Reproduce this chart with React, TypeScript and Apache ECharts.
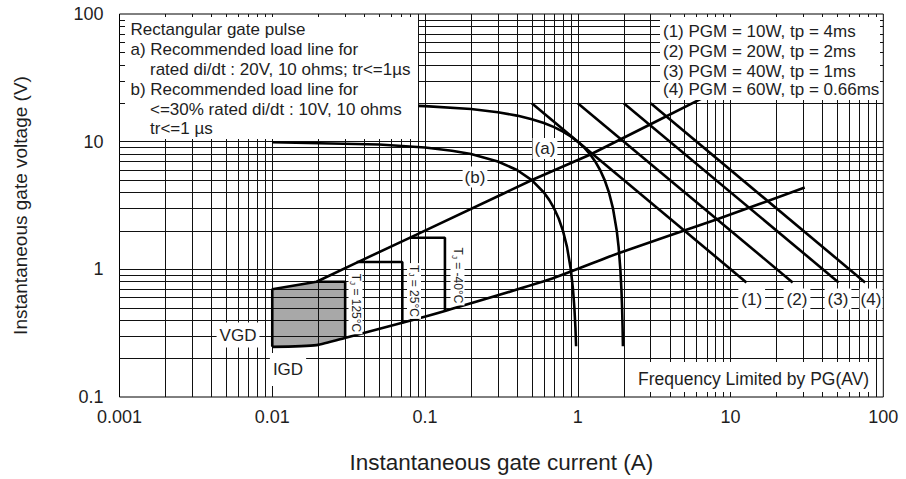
import React, { useEffect, useRef } from 'react';
import * as echarts from 'echarts';

// ---- axis ticks ----
const xTickValues = [0.001, 0.01, 0.1, 1, 10, 100];
const xTickLabels = ['0.001', '0.01', '0.1', '1', '10', '100'];
const yTickValues = [0.1, 1, 10, 100];
const yTickLabels = ['0.1', '1', '10', '100'];
const gridMantissas = [1, 2, 3, 4, 5, 6, 7, 8, 9];
const xGridDecades = [0.001, 0.01, 0.1, 1, 10];
const yGridDecades = [0.1, 1, 10];

// ---- data (I in A, V in V) ----
const loadLineA = [
  [0.01, 19.9], [0.05, 19.5], [0.1, 19.0], [0.2, 18.0], [0.3, 17.0], [0.4, 16.0],
  [0.5, 15.0], [0.6, 14.0], [0.7, 13.0], [0.8, 12.0], [0.9, 11.0], [1.0, 10.0],
  [1.1, 9.0], [1.2, 8.0], [1.3, 7.0], [1.4, 6.0], [1.5, 5.0], [1.6, 4.0],
  [1.7, 3.0], [1.8, 2.0], [1.85, 1.5], [1.9, 1.0], [1.93, 0.7], [1.95, 0.5],
  [1.965, 0.35], [1.975, 0.25],
];
const loadLineB = [
  [0.01, 9.9], [0.05, 9.5], [0.1, 9.0], [0.15, 8.5], [0.2, 8.0], [0.3, 7.0],
  [0.4, 6.0], [0.5, 5.0], [0.6, 4.0], [0.65, 3.5], [0.7, 3.0], [0.75, 2.5],
  [0.8, 2.0], [0.85, 1.5], [0.9, 1.0], [0.93, 0.7], [0.95, 0.5], [0.965, 0.35],
  [0.975, 0.25],
];
const pgm10W = [[0.5, 20], [12.7, 0.79]];
const pgm20W = [[1.0, 20], [25.5, 0.79]];
const pgm40W = [[2.0, 20], [51, 0.79]];
const pgm60W = [[3.0, 20], [76, 0.79]];
const upperBoundary = [
  [0.01, 0.247], [0.01, 0.698], [0.0195, 0.80], [0.0375, 1.16], [0.088, 1.87],
  [0.51, 5.05], [1.2, 7.9], [2.82, 13.2], [6.6, 22],
];
const lowerBoundary = [
  [0.01, 0.247], [0.0195, 0.255], [0.0307, 0.293], [0.072, 0.383], [0.135, 0.472],
  [0.657, 0.835], [1.886, 1.35], [8.09, 2.46], [30.6, 4.37],
];
const gateNonTriggerRegion = [
  [0.01, 0.247], [0.01, 0.698], [0.0195, 0.80], [0.03, 0.80], [0.03, 0.29], [0.0195, 0.255],
];
const tj125 = [[0.0195, 0.80], [0.03, 0.80], [0.03, 0.29]];
const tj25 = [[0.0357, 1.14], [0.071, 1.14], [0.071, 0.377]];
const tjMinus40 = [[0.0795, 1.77], [0.135, 1.77], [0.135, 0.475]];

const FONT = "'Liberation Sans', Arial, Helvetica, sans-serif";
const TEXT = '#1e1e1e';

function label(val: number, values: number[], labels: string[]) {
  const i = values.findIndex((t) => Math.abs(Math.log10(val) - Math.log10(t)) < 1e-6);
  return i >= 0 ? labels[i] : '';
}

function txt(x: number, y: number, text: string, size: number, align = 'left', extra: any = {}) {
  return {
    type: 'text', x, y, z: 101, silent: true,
    style: {
      text, fill: TEXT, fontSize: size, fontFamily: FONT,
      align, verticalAlign: 'middle', textAlign: align, textVerticalAlign: 'middle',
      ...extra,
    },
  };
}

function tjLabel(x: number, y: number, rest: string) {
  return {
    type: 'text', x, y, z: 101, silent: true, rotation: -Math.PI / 2,
    style: {
      text: `{t|T}{s|J}{t|${rest}}`,
      align: 'center', verticalAlign: 'middle', textAlign: 'center', textVerticalAlign: 'middle',
      backgroundColor: '#fff', padding: [0, 2],
      rich: {
        t: { fontSize: 12, fontFamily: FONT, fill: TEXT, color: TEXT, lineHeight: 14 },
        s: { fontSize: 8, fontFamily: FONT, fill: TEXT, color: TEXT, lineHeight: 14, verticalAlign: 'bottom' },
      },
    },
  };
}

function curve(data: number[][], extra: any = {}) {
  return {
    type: 'line', data, showSymbol: false, silent: true, z: 3,
    lineStyle: { color: '#000', width: 2.6 },
    emphasis: { disabled: true },
    ...extra,
  };
}

export default function App() {
  const ref = useRef<HTMLDivElement>(null);
  useEffect(() => {
    if (!ref.current) return;
    const chart = echarts.init(ref.current, undefined, { renderer: 'svg' });

    const gridLines: any[] = [];
    xGridDecades.forEach((d) => gridMantissas.forEach((m) => {
      const v = +(d * m).toPrecision(6);
      if (v > 0.001) gridLines.push({ xAxis: v });
    }));
    yGridDecades.forEach((d) => gridMantissas.forEach((m) => {
      const v = +(d * m).toPrecision(6);
      if (v > 0.1) gridLines.push({ yAxis: v });
    }));

    const left = 119.5, top = 14, right = 883.3, bottom = 398;

    chart.setOption({
      animation: false,
      backgroundColor: '#fff',
      grid: {
        left, top, width: right - left, height: bottom - top,
        show: true, borderColor: '#000', borderWidth: 1, backgroundColor: 'transparent',
      },
      xAxis: {
        type: 'log', logBase: 10, min: 0.001, max: 100,
        name: 'Instantaneous gate current (A)', nameLocation: 'middle', nameGap: 54,
        nameTextStyle: { fontSize: 22.5, fontFamily: FONT, color: TEXT },
        axisLine: { show: false }, axisTick: { show: false }, splitLine: { show: false },
        axisLabel: {
          fontSize: 18, fontFamily: FONT, color: TEXT, margin: 11,
          formatter: (v: number) => label(v, xTickValues, xTickLabels),
        },
      },
      yAxis: {
        type: 'log', logBase: 10, min: 0.1, max: 100,
        name: 'Instantaneous gate voltage (V)', nameLocation: 'middle', nameGap: 90, nameRotate: 90,
        nameTextStyle: { fontSize: 19, fontFamily: FONT, color: TEXT },
        axisLine: { show: false }, axisTick: { show: false }, splitLine: { show: false },
        axisLabel: {
          fontSize: 18, fontFamily: FONT, color: TEXT, margin: 16,
          formatter: (v: number) => label(v, yTickValues, yTickLabels),
        },
      },
      series: [
        {
          type: 'custom', coordinateSystem: 'cartesian2d', silent: true, z: 1,
          data: [[0.02, 0.5]], encode: { x: 0, y: 1 },
          renderItem: (_p: any, api: any) => ({
            type: 'polygon',
            shape: { points: gateNonTriggerRegion.map((p) => api.coord(p)) },
            style: { fill: '#a8a8a8', stroke: 'none' },
          }),
        },
        {
          type: 'line', data: [[0.001, 0.1]], showSymbol: false, silent: true, z: 2,
          lineStyle: { width: 0 },
          markLine: {
            silent: true, z: 2, symbol: ['none', 'none'], label: { show: false },
            precision: 8,
            emphasis: { disabled: true },
            lineStyle: { color: '#111', width: 1, type: 'solid' },
            data: gridLines,
          },
        },
        curve(loadLineA),
        curve(loadLineB),
        curve(pgm10W),
        curve(pgm20W),
        curve(pgm40W),
        curve(pgm60W),
        curve(upperBoundary),
        curve(lowerBoundary, { smooth: 0.2 }),
        curve(tj125),
        curve(tj25),
        curve(tjMinus40),
      ],
      graphic: {
        elements: [
          { type: 'rect', z: 100, silent: true, shape: { x: 125, y: 17, width: 293, height: 122 }, style: { fill: '#fff' } },
          { type: 'rect', z: 100, silent: true, shape: { x: 660, y: 17, width: 220, height: 83 }, style: { fill: '#fff' } },
          { type: 'rect', z: 100, silent: true, shape: { x: 636, y: 362, width: 235, height: 30 }, style: { fill: '#fff' } },
          txt(130.5, 29.5, 'Rectangular gate pulse', 17),
          txt(130.5, 49.5, 'a) Recommended load line for', 17),
          txt(150, 69.5, 'rated di/dt : 20V, 10 ohms; tr<=1µs', 17),
          txt(130.5, 89, 'b) Recommended load line for', 17),
          txt(150, 109, '<=30% rated di/dt : 10V, 10 ohms', 17),
          txt(150, 128.5, 'tr<=1 µs', 17),
          txt(663, 31, '(1) PGM = 10W, tp = 4ms', 17),
          txt(663, 51, '(2) PGM = 20W, tp = 2ms', 17),
          txt(663, 71, '(3) PGM = 40W, tp = 1ms', 17),
          txt(663, 89.5, '(4) PGM = 60W, tp = 0.66ms', 17),
          txt(638, 379, 'Frequency Limited by PG(AV)', 17.5),
          txt(751.7, 299, '(1)', 17, 'center', { backgroundColor: '#fff', padding: [2, 3] }),
          txt(797, 299, '(2)', 17, 'center', { backgroundColor: '#fff', padding: [2, 3] }),
          txt(838, 299, '(3)', 17, 'center', { backgroundColor: '#fff', padding: [2, 3] }),
          txt(871, 299, '(4)', 17, 'center', { backgroundColor: '#fff', padding: [2, 1] }),
          txt(545, 148.5, '(a)', 17, 'center', { backgroundColor: '#fff', padding: [2, 2] }),
          txt(475, 177, '(b)', 17, 'center', { backgroundColor: '#fff', padding: [2, 2] }),
          txt(238, 335, 'VGD', 17, 'center', { backgroundColor: '#fff', padding: [4, 3] }),
          txt(288, 369.5, 'IGD', 17, 'center', { backgroundColor: '#fff', padding: [8, 3] }),
          tjLabel(355.5, 303, ' = 125°C'),
          tjLabel(414, 291, ' = 25°C'),
          tjLabel(457.5, 275.5, ' = -40°C'),
        ],
      },
    });
    return () => chart.dispose();
  }, []);
  return <div ref={ref} style={{ position: 'absolute', left: 0, top: 0, width: 906, height: 479 }} />;
}
